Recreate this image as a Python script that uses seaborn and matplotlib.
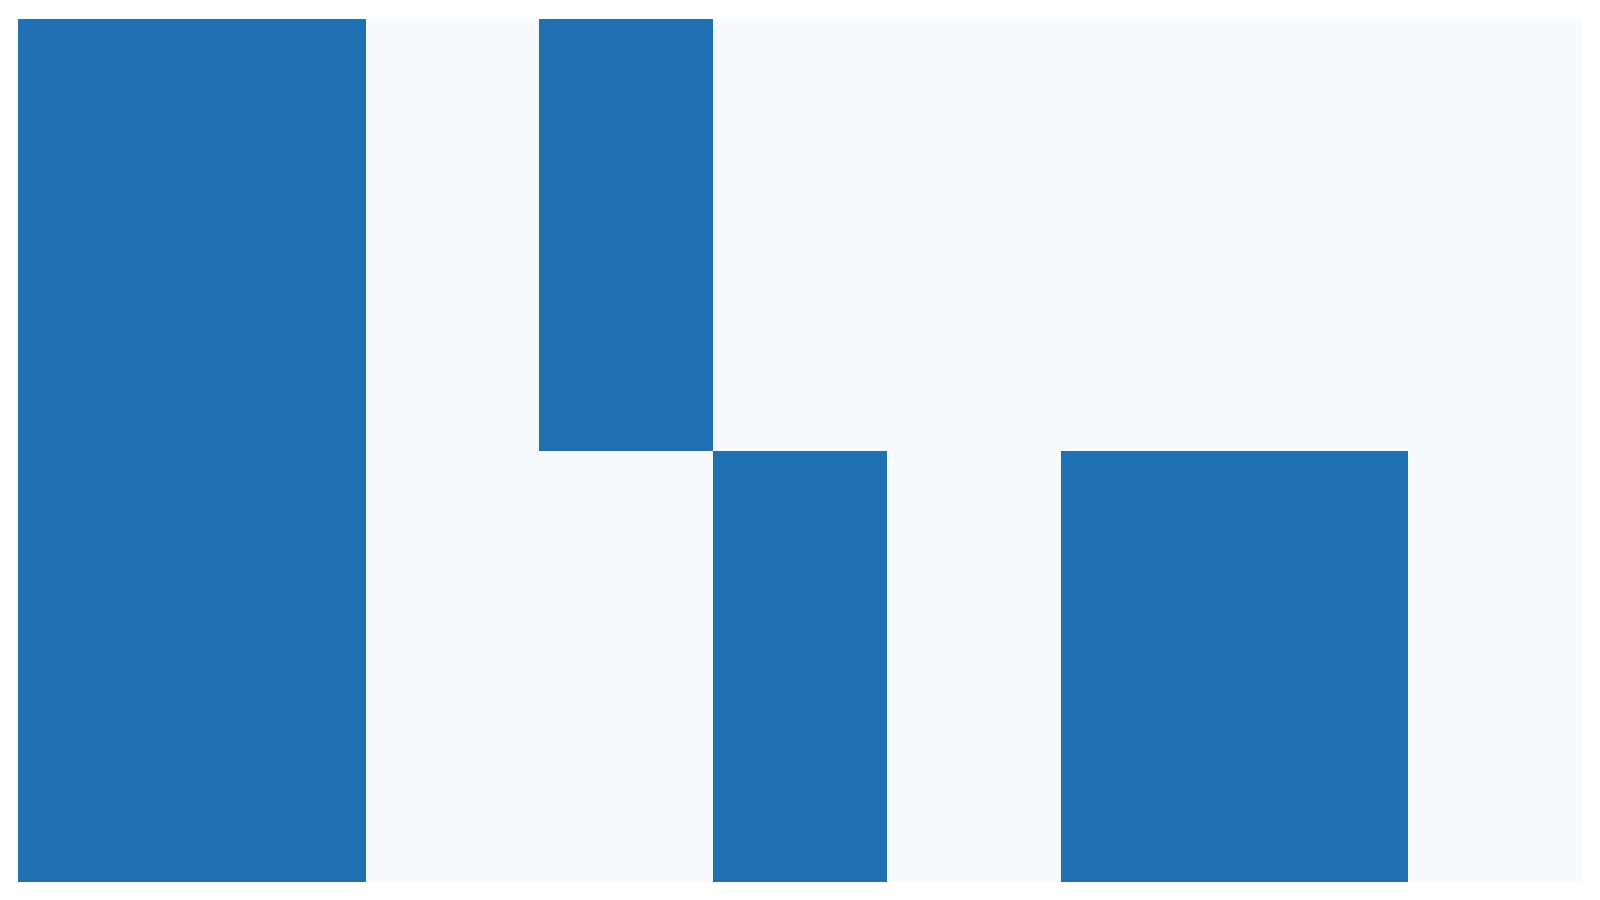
import numpy as np
import pandas as pd
import matplotlib
matplotlib.use('Agg')
import matplotlib.pyplot as plt
import seaborn as sns

# datos: 2 filas x 9 columnas (1 = marcado, 0 = vacío)
fila_superior = [1, 1, 0, 1, 0, 0, 0, 0, 0]
fila_inferior = [1, 1, 0, 0, 1, 0, 1, 1, 0]
columnas = list(range(9))
filas = [0, 1]


def grafico_mapa(df, filename):
    """Dibuja el mapa de calor sin ejes ni etiquetas"""
    fig = plt.figure(figsize=(16, 9), dpi=100)
    ax = fig.add_axes([18 / 1600, 1 - 882 / 900, 1564 / 1600, 863 / 900])
    sns.heatmap(df, ax=ax, cmap='Blues', vmin=0, vmax=1 / 0.75,
                cbar=False, xticklabels=False, yticklabels=False)
    ax.set_xlabel('')
    ax.set_ylabel('')
    fig.savefig(filename, dpi=100, facecolor='white')
    plt.close(fig)


df = pd.DataFrame([fila_superior, fila_inferior], index=filas, columns=columnas)
grafico_mapa(df, 'out.png')
